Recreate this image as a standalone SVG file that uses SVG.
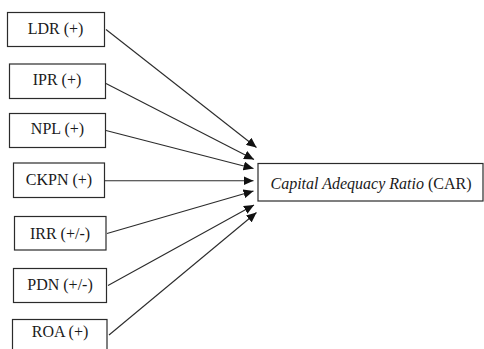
<svg xmlns="http://www.w3.org/2000/svg" width="484" height="349" viewBox="0 0 484 349">
<style>
.box{fill:#fff;stroke:#2b2b2b;stroke-width:1.2}
.lbl{font-family:"Liberation Serif","Times New Roman",serif;font-size:16px;fill:#1a1a1a;text-anchor:middle}
.ln{stroke:#2b2b2b;stroke-width:1.1;fill:none;marker-end:url(#ah)}
</style>
<defs>
<marker id="ah" markerUnits="userSpaceOnUse" markerWidth="11" markerHeight="9" refX="10" refY="4.5" orient="auto">
<path d="M0,0 L10,4.5 L0,9 z" fill="#111"/>
</marker>
</defs>
<rect width="484" height="349" fill="#fff"/>
<g id="connectors">
<line class="ln" x1="106" y1="29.5" x2="256.5" y2="147.5"/>
<line class="ln" x1="106" y1="83.5" x2="254" y2="159.5"/>
<line class="ln" x1="106" y1="130.5" x2="253.5" y2="168.5"/>
<line class="ln" x1="105" y1="180.7" x2="253.5" y2="180.7"/>
<line class="ln" x1="107" y1="233.5" x2="253.5" y2="191"/>
<line class="ln" x1="108" y1="285.5" x2="254" y2="205"/>
<line class="ln" x1="109" y1="335" x2="256.5" y2="212.5"/>
</g>
<g id="ldr"><rect class="box" x="7.5" y="12.5" width="97" height="34"/><text class="lbl" x="55.5" y="34">LDR (+)</text></g>
<g id="ipr"><rect class="box" x="9.5" y="64" width="96" height="34.5"/><text class="lbl" x="57" y="84.5">IPR (+)</text></g>
<g id="npl"><rect class="box" x="9.5" y="113.5" width="96" height="34"/><text class="lbl" x="57.5" y="134">NPL (+)</text></g>
<g id="ckpn"><rect class="box" x="13.5" y="163" width="91" height="34.5"/><text class="lbl" x="59" y="184.5">CKPN (+)</text></g>
<g id="irr"><rect class="box" x="14.5" y="216.5" width="91.5" height="33.5"/><text class="lbl" x="60" y="238.5">IRR (+/-)</text></g>
<g id="pdn"><rect class="box" x="13.5" y="268.5" width="93" height="34"/><text class="lbl" x="60" y="290">PDN (+/-)</text></g>
<g id="roa"><rect class="box" x="12.5" y="319.5" width="94.5" height="40"/><text class="lbl" x="60" y="337">ROA (+)</text></g>
<g id="car"><rect class="box" x="258" y="163.5" width="225" height="37.5"/><text class="lbl" x="371" y="189"><tspan font-style="italic">Capital Adequacy Ratio</tspan> (CAR)</text></g>
</svg>
